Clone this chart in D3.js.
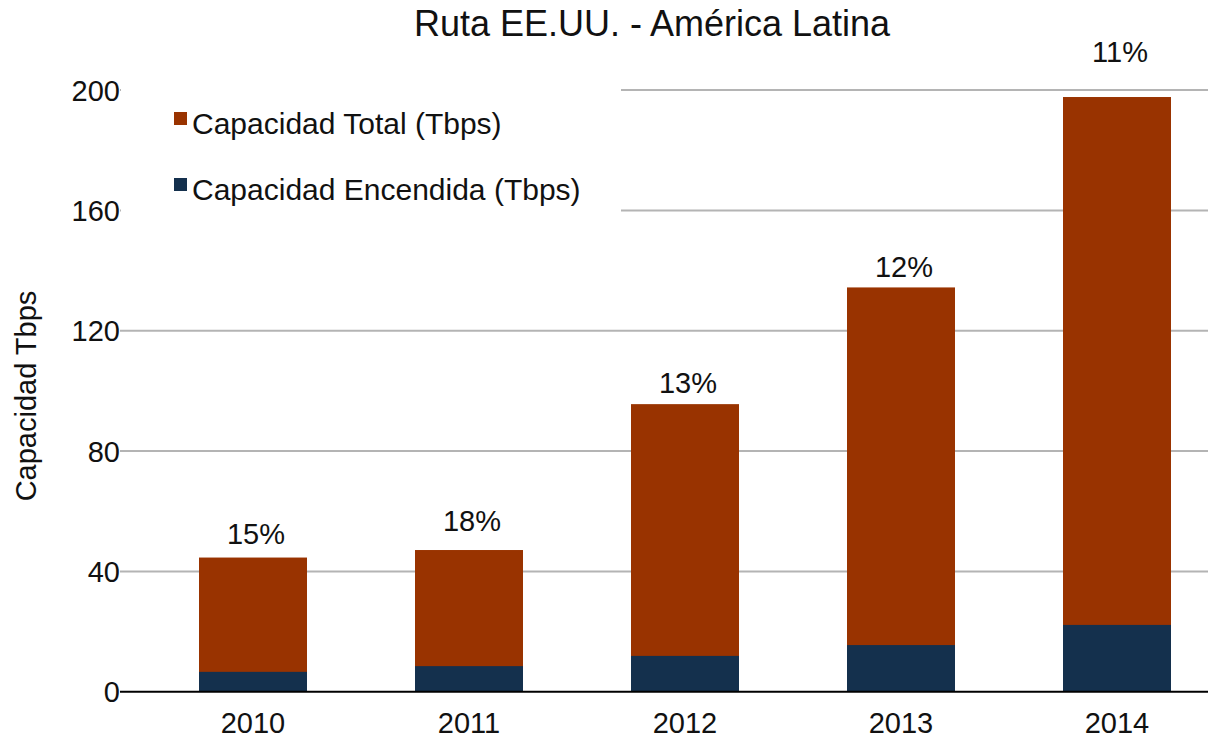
<!DOCTYPE html>
<meta charset="utf-8">
<html>
<title>Ruta EE.UU. - América Latina</title>
<script src="https://d3js.org/d3.v7.min.js"></script>
<style>
  body {margin: 0; background: #fff; font-family: "Liberation Sans", Arial, sans-serif;}
  .tick-label {font-size: 29px; fill: #111;}
  .title {font-size: 36px; fill: #111;}
  .legend text {font-size: 30px; fill: #111;}
  .pct {font-size: 29px; fill: #111;}
  .grid {stroke: #b4b4b4; stroke-width: 2px;}
</style>
<body>
<svg id="chart" width="1208" height="741"></svg>
<script>
// data
var years = ["2010", "2011", "2012", "2013", "2014"];
var total = [44.6, 47.1, 95.6, 134.4, 197.7];   // Capacidad Total (Tbps)
var lit = [6.6, 8.5, 11.9, 15.5, 22.2];         // Capacidad Encendida (Tbps)
var pctLabels = ["15%", "18%", "13%", "12%", "11%"];
var pctLevel = [49.1, 53.4, 99.3, 137.9, 209.4]; // where each label sits, in Tbps
var yTicks = [0, 40, 80, 120, 160, 200];
var seriesNames = ["Capacidad Total (Tbps)", "Capacidad Encendida (Tbps)"];
var seriesColors = ["#993300", "#14304d"];

var svg = d3.select("#chart");

var x = d3.scaleBand().domain(years).range([145, 1225])
    .paddingInner(0.5).paddingOuter(0.25);
var y = d3.scaleLinear().domain([0, 200]).range([691.7, 90.1]);
var plotLeft = 120, plotRight = 1208;

// gridlines
svg.append("g").selectAll("line")
  .data(yTicks.filter(function (d) { return d > 0; }))
  .enter().append("line")
    .attr("class", "grid")
    .attr("x1", plotLeft).attr("x2", plotRight)
    .attr("y1", function (d) { return y(d); })
    .attr("y2", function (d) { return y(d); });

// y tick labels
svg.append("g").selectAll("text")
  .data(yTicks)
  .enter().append("text")
    .attr("class", "tick-label")
    .attr("x", plotLeft)
    .attr("y", function (d) { return y(d); })
    .attr("dy", "0.36em")
    .attr("text-anchor", "end")
    .text(function (d) { return d; });

// bars: total first, lit capacity drawn over it from zero
var rows = years.map(function (yr, i) {
  return {year: yr, total: total[i], lit: lit[i], pct: pctLabels[i], level: pctLevel[i]};
});

svg.append("g").selectAll("rect")
  .data(rows)
  .enter().append("rect")
    .attr("x", function (d) { return x(d.year); })
    .attr("width", x.bandwidth())
    .attr("y", function (d) { return y(d.total); })
    .attr("height", function (d) { return y(0) - y(d.total); })
    .attr("fill", seriesColors[0]);

svg.append("g").selectAll("rect")
  .data(rows)
  .enter().append("rect")
    .attr("x", function (d) { return x(d.year); })
    .attr("width", x.bandwidth())
    .attr("y", function (d) { return y(d.lit); })
    .attr("height", function (d) { return y(0) - y(d.lit); })
    .attr("fill", seriesColors[1]);

// baseline
svg.append("line")
    .attr("x1", plotLeft).attr("x2", plotRight)
    .attr("y1", y(0)).attr("y2", y(0))
    .attr("stroke", "#000").attr("stroke-width", 2);

// percentage labels
svg.append("g").selectAll("text")
  .data(rows)
  .enter().append("text")
    .attr("class", "pct")
    .attr("x", function (d) { return x(d.year) + x.bandwidth() / 2 + 3; })
    .attr("y", function (d) { return y(d.level); })
    .attr("text-anchor", "middle")
    .text(function (d) { return d.pct; });

// x tick labels
svg.append("g").selectAll("text")
  .data(years)
  .enter().append("text")
    .attr("class", "tick-label")
    .attr("x", function (d) { return x(d) + x.bandwidth() / 2; })
    .attr("y", 733)
    .attr("text-anchor", "middle")
    .text(function (d) { return d; });

// title
svg.append("text")
    .attr("class", "title")
    .attr("x", 652).attr("y", 36)
    .attr("text-anchor", "middle")
    .text("Ruta EE.UU. - América Latina");

// y axis title
svg.append("text")
    .attr("class", "tick-label")
    .attr("transform", "translate(36,396) rotate(-90)")
    .attr("text-anchor", "middle")
    .text("Capacidad Tbps");

// legend (white box hides the gridlines behind it)
var legend = svg.append("g").attr("class", "legend");
legend.append("rect")
    .attr("x", plotLeft + 1).attr("y", 78)
    .attr("width", 500).attr("height", 145)
    .attr("fill", "#fff");
var item = legend.selectAll("g.item")
  .data(seriesNames)
  .enter().append("g")
    .attr("class", "item")
    .attr("transform", function (d, i) { return "translate(174," + (112 + i * 66) + ")"; });
item.append("rect")
    .attr("width", 13).attr("height", 13)
    .attr("fill", function (d, i) { return seriesColors[i]; });
item.append("text")
    .attr("x", 18).attr("y", 22)
    .text(function (d) { return d; });
</script>
</body>
</html>
